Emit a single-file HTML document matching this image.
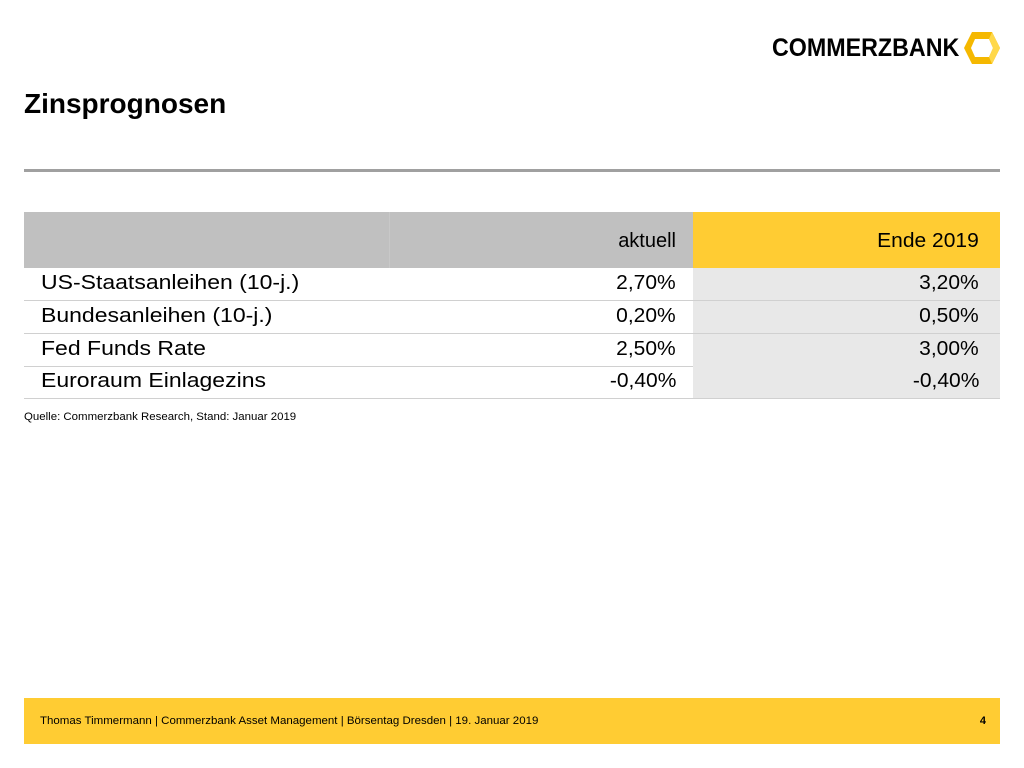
<!DOCTYPE html>
<html><head><meta charset="utf-8"><style>
body{margin:0;width:1024px;height:768px;background:#fff;font-family:"Liberation Sans",Arial,sans-serif;position:relative;overflow:hidden;color:#000}
.a{position:absolute;white-space:nowrap}
.row{position:absolute;left:24px;width:976px;height:32px;border-bottom:1px solid #d0d0d0}
.row .lbl{position:absolute;left:17px;top:4px;font-size:20px;transform:scaleX(1.15);transform-origin:left}
.row .v1{position:absolute;right:324px;top:4px;font-size:20px;transform:scaleX(1.05);transform-origin:right}
.row .v2bg{position:absolute;left:669px;top:0;width:307px;height:32px;background:#e8e8e8}
.row .v2{position:absolute;right:21px;top:4px;font-size:20px;transform:scaleX(1.05);transform-origin:right}
</style></head><body>
<div class="a" style="left:772px;top:34px;font-size:25px;font-weight:bold;transform:scaleX(0.93);transform-origin:left">COMMERZBANK</div>
<svg class="a" style="left:962px;top:32px" width="40" height="34" viewBox="0 0 40 34"><polygon points="10,0 30,0 38,16 30,32 10,32 2,16" fill="#f5b800"/><polygon points="13,7 27,7 31,16 27,25 13,25 9,16" fill="#fff"/><polygon points="30,0 38,16 30,32 27,25 31,16 27,7" fill="#ffd84a"/></svg>
<div class="a" style="left:24px;top:88px;font-size:28px;font-weight:bold">Zinsprognosen</div>
<div class="a" style="left:24px;top:169px;width:976px;height:3px;background:#a0a0a0"></div>
<div class="a" style="left:24px;top:212px;width:976px;height:56px">
 <div class="a" style="left:0;top:0;width:669px;height:56px;background:#c0c0c0"></div>
 <div class="a" style="left:365px;top:0;width:1px;height:56px;background:#c8c8c8"></div>
 <div class="a" style="left:669px;top:0;width:307px;height:56px;background:#ffcc33"></div>
 <div class="a" style="right:324px;top:18px;font-size:20px">aktuell</div>
 <div class="a" style="right:21px;top:18px;font-size:20px;transform:scaleX(1.05);transform-origin:right">Ende 2019</div>
</div>
<div class="row" style="top:268px"><div class="v2bg"></div><span class="lbl">US-Staatsanleihen (10-j.)</span><span class="v1">2,70%</span><span class="v2">3,20%</span></div>
<div class="row" style="top:301px"><div class="v2bg"></div><span class="lbl">Bundesanleihen (10-j.)</span><span class="v1">0,20%</span><span class="v2">0,50%</span></div>
<div class="row" style="top:334px"><div class="v2bg"></div><span class="lbl">Fed Funds Rate</span><span class="v1">2,50%</span><span class="v2">3,00%</span></div>
<div class="row" style="top:366px"><div class="v2bg"></div><span class="lbl">Euroraum Einlagezins</span><span class="v1">-0,40%</span><span class="v2">-0,40%</span></div>
<div class="a" style="left:24px;top:411px;font-size:11px;transform:scaleX(1.04);transform-origin:left">Quelle: Commerzbank Research, Stand: Januar 2019</div>
<div class="a" style="left:24px;top:698px;width:976px;height:46px;background:#ffcc33">
 <div class="a" style="left:16px;top:17px;font-size:11px;transform:scaleX(1.045);transform-origin:left">Thomas Timmermann | Commerzbank Asset Management | Börsentag Dresden | 19. Januar 2019</div>
 <div class="a" style="right:14px;top:17px;font-size:11px;font-weight:bold">4</div>
</div>
</body></html>
